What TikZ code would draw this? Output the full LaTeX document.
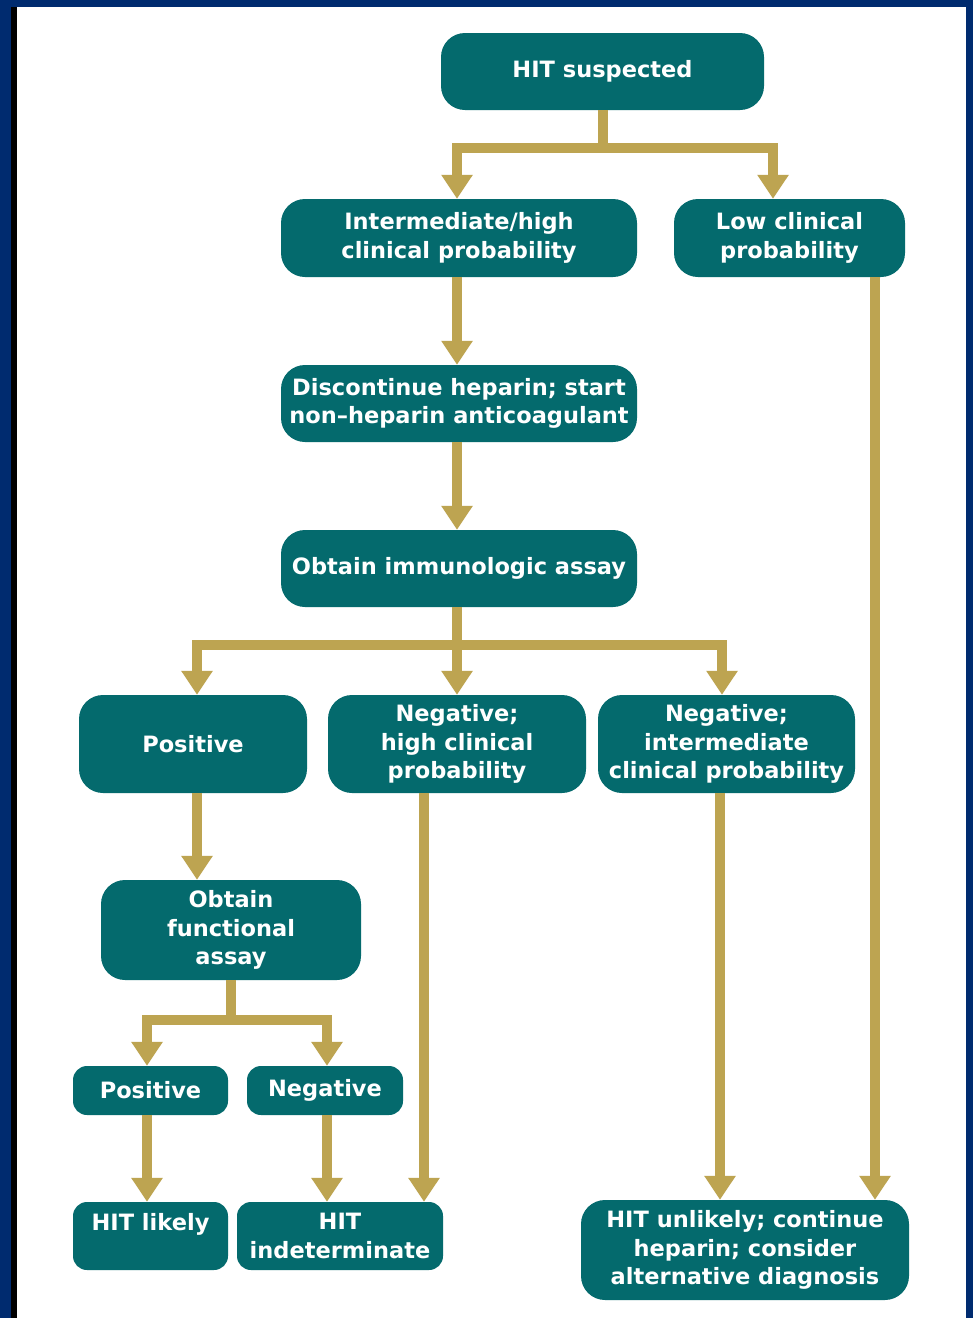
\documentclass[tikz,border=0pt]{standalone}
\usepackage{fontspec}
\setmainfont{DejaVu Sans}
\usetikzlibrary{arrows.meta}
\definecolor{hitteal}{HTML}{046A6D}
\definecolor{hitgold}{HTML}{BDA451}
\definecolor{hitnavy}{HTML}{002B6F}
\begin{document}
\begin{tikzpicture}[x=1pt,y=-1pt,
        box/.style={fill=hitteal,text=white,rounded corners=24pt,inner sep=0pt,align=center,
                font=\bfseries\fontsize{22.5}{28.5}\selectfont},
        small/.style={box,rounded corners=14pt},
        flow/.style={draw=hitgold,line width=10pt,-{Triangle[width=30pt,length=24pt]}},
        bar/.style={draw=hitgold,line width=10pt}]
        % frame
        \fill[hitnavy] (0,0) rectangle (973,1318);
        \fill[black] (11,7) rectangle (17,1318);
        \fill[white] (17,7) rectangle (966,1318);
        % boxes
        \node[box,minimum width=323pt,minimum height=77pt] (hit) at (602.5,71.5) {HIT suspected};
        \node[box,minimum width=356pt,minimum height=78pt] (inter) at (459,238) {Intermediate/high\\clinical probability};
        \node[box,minimum width=231pt,minimum height=78pt] (low) at (789.5,238) {Low clinical\\probability};
        \node[box,minimum width=356pt,minimum height=77pt] (stop) at (459,403.5) {Discontinue heparin; start\\non–heparin anticoagulant};
        \node[box,minimum width=356pt,minimum height=77pt] (immuno) at (459,568.5) {Obtain immunologic assay};
        \node[box,minimum width=228pt,minimum height=98pt] (pos) at (193,744) {Positive};
        \node[box,minimum width=258pt,minimum height=98pt] (neghigh) at (457,744) {Negative;\\high clinical\\probability};
        \node[box,minimum width=257pt,minimum height=98pt] (negint) at (726.5,744) {Negative;\\intermediate\\clinical probability};
        \node[box,minimum width=260pt,minimum height=100pt] (func) at (231,930) {Obtain\\functional\\assay};
        \node[small,minimum width=155pt,minimum height=49pt] (pos2) at (150.5,1090.5) {Positive};
        \node[small,minimum width=156pt,minimum height=49pt] (neg2) at (325,1090.5) {Negative};
        \node[small,minimum width=155pt,minimum height=68pt] (likely) at (150.5,1236) {HIT likely\\\mbox{}};
        \node[small,minimum width=206pt,minimum height=68pt] (indet) at (340,1236) {HIT\\indeterminate};
        \node[box,minimum width=328pt,minimum height=100pt] (unlikely) at (745,1250) {HIT unlikely; continue\\heparin; consider\\alternative diagnosis};
        % connectors
        \draw[bar] (hit.south) -- ++(0,38);
        \draw[flow] (hit.south) ++(0,38) -| (457,0 |- inter.north);
        \draw[flow] (hit.south) ++(0,38) -| (773,0 |- low.north);
        \draw[flow] (457,0 |- inter.south) -- (457,0 |- stop.north);
        \draw[flow] (457,0 |- stop.south) -- (457,0 |- immuno.north);
        \draw[bar] (457,0 |- immuno.south) -- (457,645);
        \draw[flow] (457,645) -| (197,0 |- pos.north);
        \draw[flow] (457,645) -| (722,0 |- negint.north);
        \draw[flow] (457,645) -- (457,0 |- neghigh.north);
        \draw[flow] (197,0 |- pos.south) -- (197,0 |- func.north);
        \draw[bar] (func.south) -- (231,1020);
        \draw[flow] (231,1020) -| (147,0 |- pos2.north);
        \draw[flow] (231,1020) -| (327,0 |- neg2.north);
        \draw[flow] (147,0 |- pos2.south) -- (147,0 |- likely.north);
        \draw[flow] (327,0 |- neg2.south) -- (327,0 |- indet.north);
        \draw[flow] (424,0 |- neghigh.south) -- (424,0 |- indet.north);
        \draw[flow] (720,0 |- negint.south) -- (720,0 |- unlikely.north);
        \draw[flow] (875,0 |- low.south) -- (875,0 |- unlikely.north);
\end{tikzpicture}
\end{document}
